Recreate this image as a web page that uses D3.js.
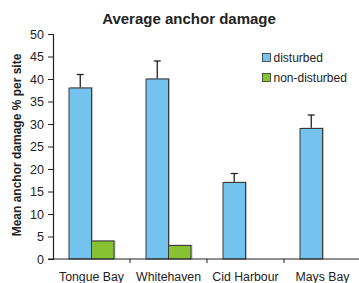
<!DOCTYPE html>
<html>
<head>
<meta charset="utf-8">
<script src="https://cdn.jsdelivr.net/npm/d3@7"></script>
<style>
  body { margin: 0; background: #fff; }
  text { font-family: "Liberation Sans", Arial, sans-serif; fill: #222; }
</style>
</head>
<body>
<script>
var sites = ["Tongue Bay", "Whitehaven", "Cid Harbour", "Mays Bay"];
var seriesNames = ["disturbed", "non-disturbed"];
var disturbed = [38, 40, 17, 29];
var disturbedErr = [3, 4, 2, 3];
var nonDisturbed = [4, 3, 0, 0];
var yTicks = [0, 5, 10, 15, 20, 25, 30, 35, 40, 45, 50];
var colors = ["#74c3ee", "#86c232"];

var w = 359, h = 283;
var mLeft = 53, mRight = 361, mTop = 34, mBottom = 259;

var svg = d3.select("body").append("svg")
    .attr("width", w)
    .attr("height", h);

var x = d3.scaleBand().domain(sites).range([mLeft, mRight]);
var y = d3.scaleLinear().domain([0, 50]).range([mBottom, mTop]);
var barW = 22.5;

// title
svg.append("text")
    .attr("x", 189).attr("y", 24)
    .attr("text-anchor", "middle")
    .style("font-size", "15px").style("font-weight", "bold")
    .text("Average anchor damage");

// y label
svg.append("text")
    .attr("transform", "translate(21," + 145 + ") rotate(-90)")
    .attr("text-anchor", "middle")
    .style("font-size", "12px").style("font-weight", "bold")
    .text("Mean anchor damage % per site");

var data = sites.map(function (s, i) {
    return { site: s, vals: [disturbed[i], nonDisturbed[i]], err: disturbedErr[i] };
});

var groups = svg.selectAll("g.site").data(data).enter()
    .append("g").attr("class", "site");

// error bars for disturbed
function errX(d) { return x(d.site) + x.bandwidth() / 2 - barW / 2; }
groups.append("line")
    .attr("x1", errX).attr("x2", errX)
    .attr("y1", function (d) { return y(d.vals[0]); })
    .attr("y2", function (d) { return y(d.vals[0] + d.err); })
    .attr("stroke", "#222").attr("stroke-width", 1.3);
groups.append("line")
    .attr("x1", function (d) { return errX(d) - 3.5; })
    .attr("x2", function (d) { return errX(d) + 3.5; })
    .attr("y1", function (d) { return y(d.vals[0] + d.err); })
    .attr("y2", function (d) { return y(d.vals[0] + d.err); })
    .attr("stroke", "#222").attr("stroke-width", 1.3);

var bars = groups.selectAll("g.bar")
    .data(function (d) {
        return d.vals.map(function (v, j) { return { site: d.site, v: v, j: j }; })
            .filter(function (e) { return e.v > 0; });
    })
    .enter().append("g").attr("class", "bar");

// soft shadow
bars.append("rect")
    .attr("x", function (d) { return x(d.site) + x.bandwidth() / 2 - barW + d.j * barW + 1.5; })
    .attr("y", function (d) { return y(d.v) - 1; })
    .attr("width", barW)
    .attr("height", function (d) { return mBottom - y(d.v) + 1; })
    .attr("fill", "#999").attr("opacity", 0.6);

bars.append("rect")
    .attr("x", function (d) { return x(d.site) + x.bandwidth() / 2 - barW + d.j * barW; })
    .attr("y", function (d) { return y(d.v); })
    .attr("width", barW)
    .attr("height", function (d) { return mBottom - y(d.v); })
    .attr("fill", function (d) { return colors[d.j]; })
    .attr("stroke", "#3a3a3a").attr("stroke-width", 1);

// y axis
var yAxis = svg.append("g")
    .attr("transform", "translate(" + mLeft + ",0)")
    .call(d3.axisLeft(y).tickValues(yTicks).tickSize(5).tickPadding(4));
yAxis.select(".domain").attr("stroke", "#222").attr("stroke-width", 1.2);
yAxis.selectAll(".tick line").attr("stroke", "#222");
yAxis.selectAll("text").style("font-size", "12.5px").attr("fill", "#333")
    .style("font-family", "'Liberation Sans', Arial, sans-serif");

// x axis
var xAxis = svg.append("g")
    .attr("transform", "translate(0," + mBottom + ")");
xAxis.append("line")
    .attr("x1", mLeft - 5).attr("x2", 359)
    .attr("stroke", "#222").attr("stroke-width", 1.2);
xAxis.selectAll("line.tk").data(sites.slice(1)).enter()
    .append("line").attr("class", "tk")
    .attr("x1", function (d) { return x(d); })
    .attr("x2", function (d) { return x(d); })
    .attr("y1", 0).attr("y2", 4)
    .attr("stroke", "#222");
xAxis.selectAll("text").data(sites).enter()
    .append("text")
    .attr("x", function (d) { return x(d) + x.bandwidth() / 2; })
    .attr("y", 22)
    .attr("text-anchor", "middle")
    .style("font-size", "12.3px").attr("fill", "#333")
    .text(function (d) { return d; });

// legend
var legend = svg.selectAll("g.leg").data(seriesNames).enter()
    .append("g").attr("class", "leg")
    .attr("transform", function (d, i) { return "translate(262.5," + (53.5 + i * 20) + ")"; });
legend.append("rect")
    .attr("width", 8).attr("height", 8)
    .attr("fill", function (d, i) { return colors[i]; })
    .attr("stroke", "#333").attr("stroke-width", 0.8);
legend.append("text")
    .attr("x", 11).attr("y", 8)
    .style("font-size", "12px").attr("fill", "#333")
    .text(function (d) { return d; });
</script>
</body>
</html>
